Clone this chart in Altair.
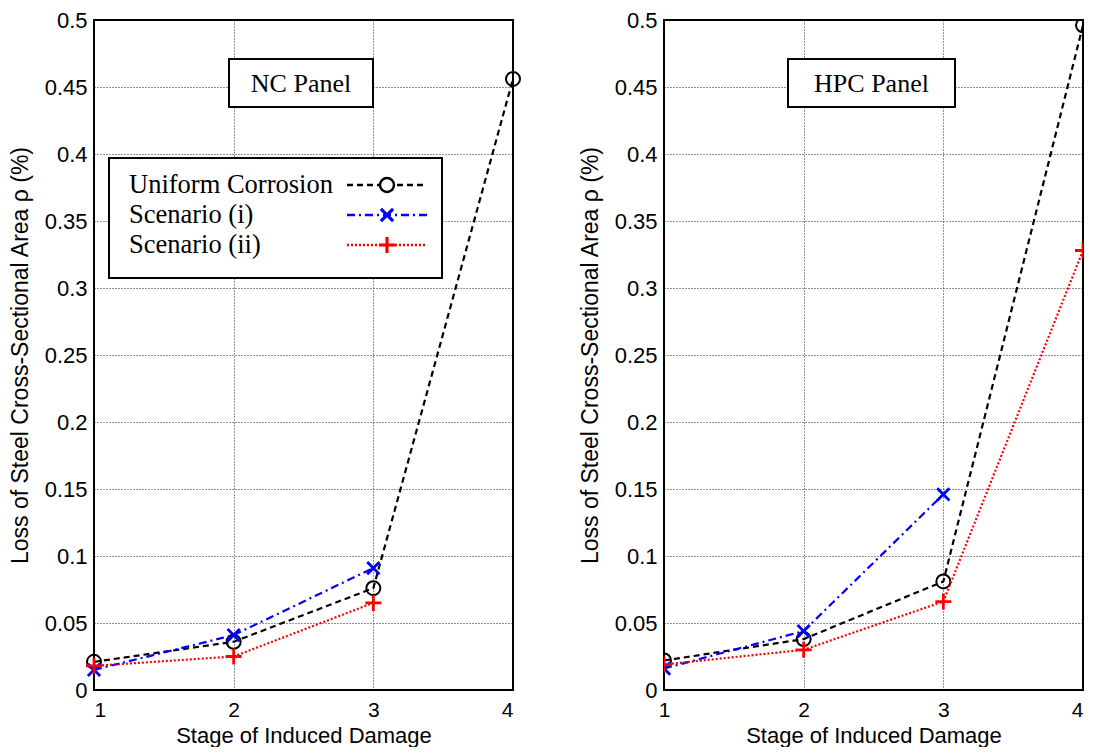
import altair as alt
import pandas as pd

stages = [1, 2, 3, 4]
series_names = ["Uniform Corrosion", "Scenario (i)", "Scenario (ii)"]

nc_uniform = [0.021, 0.036, 0.076, 0.456]
nc_scen_i = [0.015, 0.041, 0.091]
nc_scen_ii = [0.018, 0.025, 0.065]

hpc_uniform = [0.022, 0.038, 0.081, 0.496]
hpc_scen_i = [0.016, 0.044, 0.146]
hpc_scen_ii = [0.019, 0.030, 0.066, 0.328]

y_ticks = [0, 0.05, 0.1, 0.15, 0.2, 0.25, 0.3, 0.35, 0.4, 0.45, 0.5]

colors = ["#000000", "#0000ff", "#ff0000"]
dashes = [[6, 4], [8, 4, 2, 4], [2, 2]]
shapes = ["circle", "M-1,-1L1,1M-1,1L1,-1", "M-1,0L1,0M0,-1L0,1"]
sizes = [196, 150, 256]
mark_widths = [2, 2.8, 2.8]

W, H = 419, 670
SANS = "Liberation Sans"
SERIF = "Liberation Serif"

x_scale = alt.Scale(domain=[1, 4], nice=False, zero=False)
y_scale = alt.Scale(domain=[0, 0.5], nice=False)


def one():
    return alt.Chart(pd.DataFrame({"a": [0]}))


def make_panel(values_list, label, label_box, show_legend, flush_last):
    layers = []
    x_axis_kw = dict(values=stages, format="d", title="Stage of Induced Damage")
    if flush_last:
        x_axis_kw["labelAlign"] = {"condition": {"test": "datum.value == 4", "value": "right"},
                                   "value": "center"}
    xenc = alt.X("stage:Q", scale=x_scale, axis=alt.Axis(**x_axis_kw))
    yenc = alt.Y("rho:Q", scale=y_scale,
                 axis=alt.Axis(values=y_ticks, format=".2~f",
                               title="Loss of Steel Cross-Sectional Area  ρ (%)"))
    bx0, bx1, by0, by1 = label_box
    layers.append(
        one().mark_rect(fill="white", stroke="black", strokeWidth=2)
        .encode(x=alt.value(bx0), x2=alt.value(bx1), y=alt.value(by0), y2=alt.value(by1))
    )
    layers.append(
        one().mark_text(text=label, font=SERIF, fontSize=26, color="black",
                        align="center", baseline="middle")
        .encode(x=alt.value((bx0 + bx1) / 2), y=alt.value((by0 + by1) / 2 + 1))
    )
    if show_legend:
        layers.append(
            one().mark_rect(fill="white", stroke="black", strokeWidth=2)
            .encode(x=alt.value(15), x2=alt.value(348), y=alt.value(138), y2=alt.value(258))
        )
        for i, name in enumerate(series_names):
            yy = 165 + 30 * i
            layers.append(
                one().mark_text(text=name, font=SERIF, fontSize=26.5, color="black",
                                align="left", baseline="middle")
                .encode(x=alt.value(35), y=alt.value(yy))
            )
            layers.append(
                one().mark_rule(color=colors[i], strokeDash=dashes[i], strokeWidth=2.6)
                .encode(x=alt.value(253), x2=alt.value(333), y=alt.value(yy))
            )
            pkw = dict(shape=shapes[i], size=sizes[i], color=colors[i],
                       filled=False, strokeWidth=mark_widths[i] + 0.4, opacity=1)
            if i == 0:
                pkw["fill"] = "white"
                pkw["fillOpacity"] = 1
            layers.append(
                one().mark_point(**pkw).encode(x=alt.value(293), y=alt.value(yy))
            )
    for i, (name, vals) in enumerate(zip(series_names, values_list)):
        df = pd.DataFrame({"stage": stages[:len(vals)], "rho": vals, "series": name})
        base = alt.Chart(df)
        layers.append(
            base.mark_line(color=colors[i], strokeDash=dashes[i], strokeWidth=2.2,
                           clip=flush_last)
            .encode(x=xenc, y=yenc)
        )
        layers.append(
            base.mark_point(shape=shapes[i], size=sizes[i], color=colors[i],
                            filled=False, strokeWidth=mark_widths[i], opacity=1,
                            clip=flush_last)
            .encode(x=xenc, y=yenc)
        )
    return alt.layer(*layers).properties(width=W, height=H)


left = make_panel([nc_uniform, nc_scen_i, nc_scen_ii], "NC Panel", (135, 279, 39, 87), True, False)
right = make_panel([hpc_uniform, hpc_scen_i, hpc_scen_ii], "HPC Panel", (124, 291, 39, 87), False, True)

chart = alt.hconcat(left, right, spacing=53).properties(
    padding={"left": 0, "top": 0, "right": 0, "bottom": 0}
).configure_view(
    stroke="black", strokeWidth=2
).configure_axis(
    labelFont=SANS, labelFontSize=22, labelColor="black",
    titleFont=SANS, titleFontSize=23, titleColor="black", titleFontWeight="normal",
    grid=True, gridColor="black", gridDash=[1, 2], gridWidth=1, gridOpacity=0.85,
    domain=False, ticks=False
).configure_axisX(
    labelFontSize=21, titleFontSize=22, labelPadding=9, titlePadding=5
).configure_axisY(
    labelPadding=7, titlePadding=12
)

chart.save("out.html", embed_options={"renderer": "svg", "actions": False})
